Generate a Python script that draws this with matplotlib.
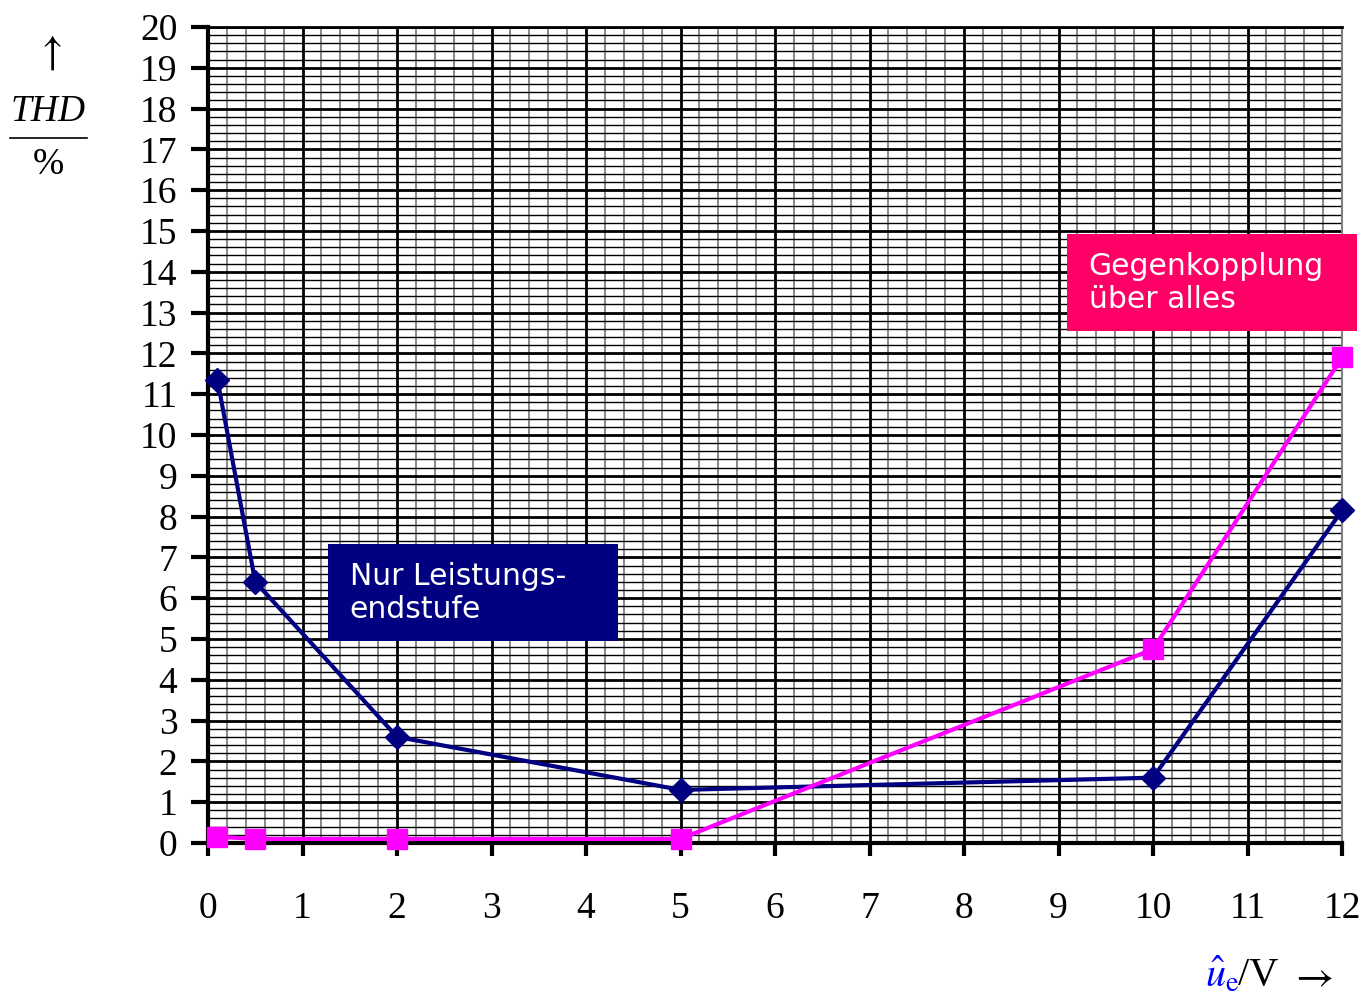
import numpy as np
import matplotlib
matplotlib.use('Agg')
import matplotlib.pyplot as plt
from matplotlib.patches import Rectangle
from matplotlib.ticker import MultipleLocator

# data
x_endstufe = [0.1, 0.5, 2, 5, 10, 12]
thd_endstufe = [11.35, 6.4, 2.6, 1.3, 1.6, 8.15]

x_gegen = [0.1, 0.5, 2, 5, 10, 12]
thd_gegen = [0.15, 0.1, 0.1, 0.1, 4.75, 11.9]

x_ticks = list(range(0, 13))
y_ticks = list(range(0, 21))

plt.rcParams['mathtext.fontset'] = 'stix'
serif = 'Liberation Serif'

fig = plt.figure(figsize=(13.64, 9.99), dpi=100)
ax = fig.add_axes([0.1525, 0.1562, 0.8314, 0.8168])

ax.set_xlim(0, 12)
ax.set_ylim(0, 20)

# graph paper grid
ax.xaxis.set_minor_locator(MultipleLocator(0.2))
ax.yaxis.set_minor_locator(MultipleLocator(0.2))
ax.grid(which='minor', axis='x', color='#808080', lw=1.3)
ax.grid(which='minor', axis='y', color='black', lw=1.0)
ax.grid(which='major', color='black', lw=2.0)
ax.set_axisbelow(True)

ax.set_xticks(x_ticks)
ax.set_yticks(y_ticks)
ax.set_xticklabels([str(v) for v in x_ticks], fontfamily=serif, fontsize=27)
ax.set_yticklabels([str(v) for v in y_ticks], fontfamily=serif, fontsize=27)
ax.tick_params(which='major', axis='x', direction='out', length=9, width=3, pad=26)
ax.tick_params(which='major', axis='y', direction='out', length=12, width=3, pad=10)
ax.tick_params(which='minor', length=0)

for side in ['left', 'bottom']:
    ax.spines[side].set_linewidth(3)
ax.spines['top'].set_linewidth(2)
ax.spines['right'].set_linewidth(1.5)
ax.spines['right'].set_color('#808080')

ax.plot(x_endstufe, thd_endstufe, color='#000080', lw=3, marker='D',
        markersize=12, zorder=3, clip_on=False)
ax.plot(x_gegen, thd_gegen, color='#FF00FF', lw=3, marker='s',
        markersize=14, zorder=3, clip_on=False)

# labels in boxes
ax.add_patch(Rectangle((1.27, 4.95), 3.07, 2.38, fc='#000080', ec='none',
                       zorder=5, clip_on=False))
ax.text(1.5, 6.13, 'Nur Leistungs-\nendstufe', color='white', fontsize=21.5,
        fontfamily='DejaVu Sans', va='center', ha='left', linespacing=1.18, zorder=6)
ax.add_patch(Rectangle((9.09, 12.55), 3.07, 2.38, fc='#FF0066', ec='none',
                       zorder=5, clip_on=False))
ax.text(9.32, 13.73, 'Gegenkopplung\nüber alles', color='white', fontsize=21.5,
        fontfamily='DejaVu Sans', va='center', ha='left', linespacing=1.18, zorder=6,
        clip_on=False)

# axis labels
fig.text(48 / 1364, 1 - 52 / 999, r'$\uparrow$', ha='center', va='center',
         fontsize=30)
fig.text(48 / 1364, 1 - 112 / 999, 'THD', ha='center', va='center', fontsize=27,
         fontfamily=serif, style='italic')
fig.add_artist(plt.Line2D([10 / 1364, 87 / 1364], [1 - 138 / 999, 1 - 138 / 999],
                          color='black', lw=1.2))
fig.text(48 / 1364, 1 - 165 / 999, '%', ha='center', va='center', fontsize=27,
         fontfamily=serif)

fig.text(1205 / 1364, 1 - 975 / 999, r'$\hat{u}_\mathrm{e}$', color='#0000FF',
         ha='left', va='center', fontsize=29)
fig.text(1238 / 1364, 1 - 975 / 999, '/V', ha='left', va='center', fontsize=29,
         fontfamily=serif)
fig.text(1289 / 1364, 1 - 975 / 999, r'$\rightarrow$', ha='left', va='center',
         fontsize=30)

fig.savefig('out.png', dpi=100)
